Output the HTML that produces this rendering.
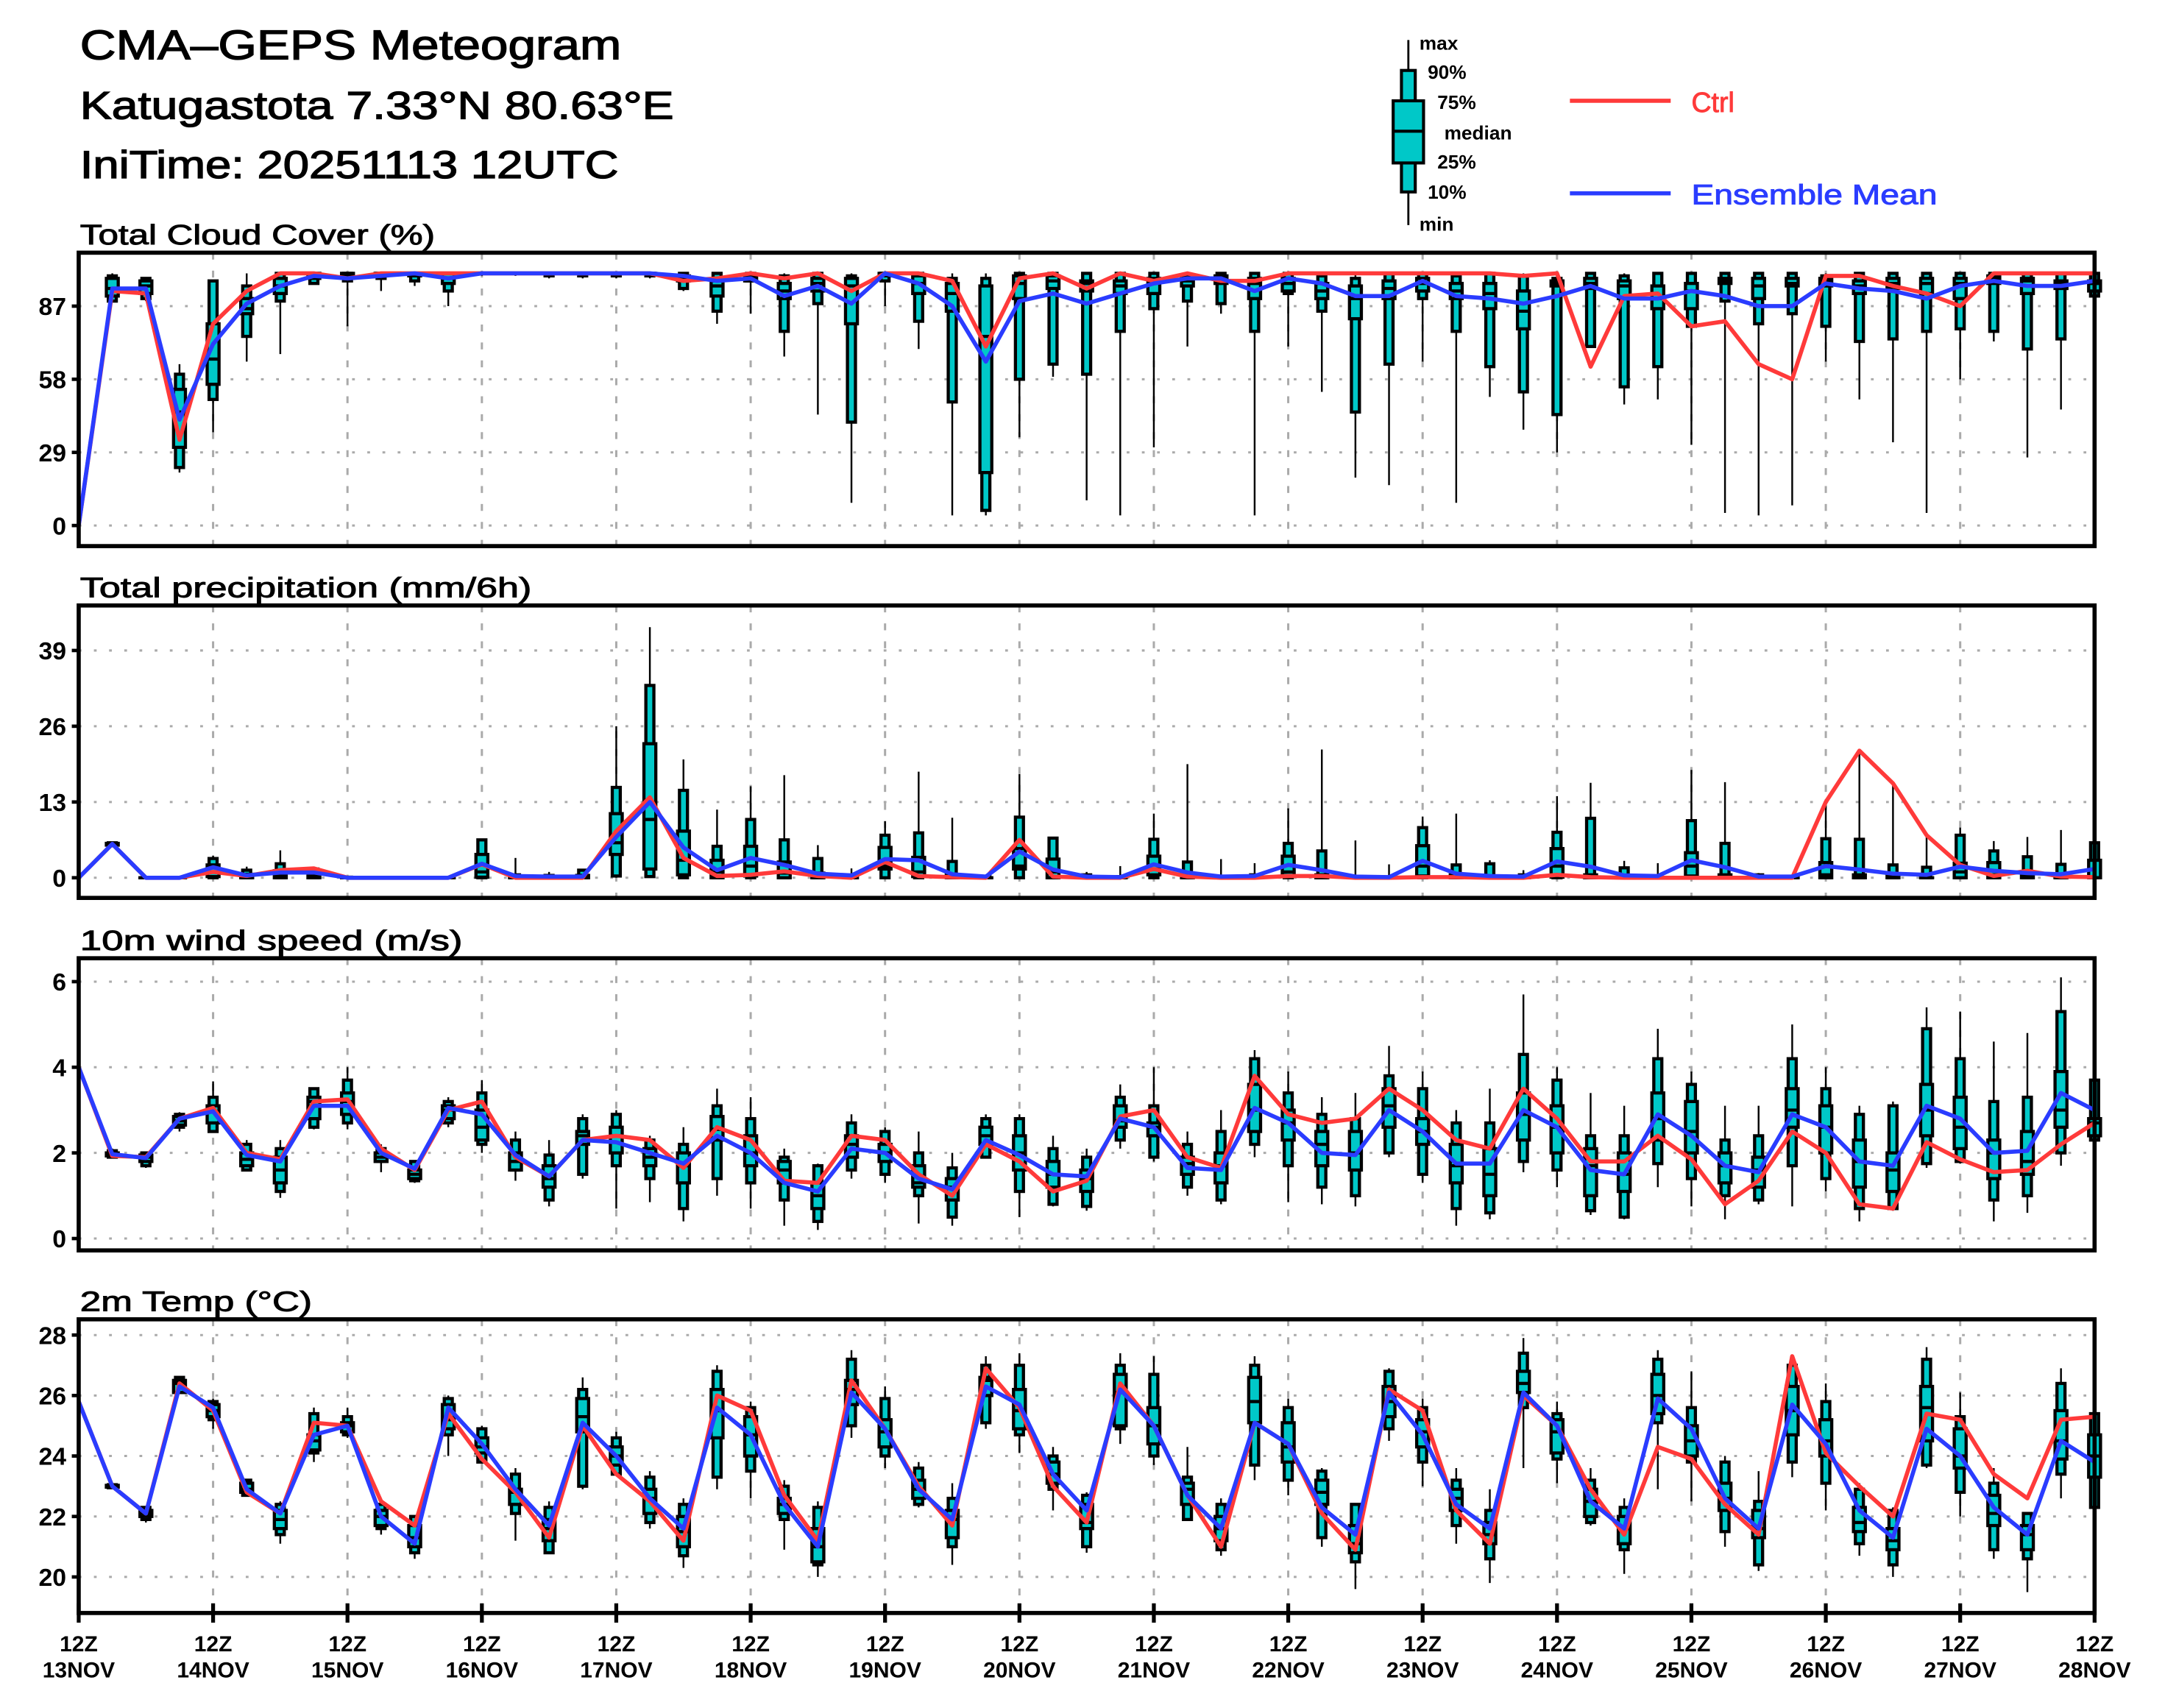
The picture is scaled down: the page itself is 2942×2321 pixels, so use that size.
<!DOCTYPE html>
<html>
<head>
<meta charset="utf-8">
<style>
html,body{margin:0;padding:0;background:#fff;}
svg{display:block;}
text{font-family:"Liberation Sans",sans-serif;}
</style>
</head>
<body>
<svg id="chart" xmlns="http://www.w3.org/2000/svg" width="2942" height="2321" viewBox="0 0 1568 1237">
<rect x="0" y="0" width="1568" height="1237" fill="#fff"/>
<g id="titles" stroke="#000" stroke-width="0.7">
<text x="58" y="43" font-size="30" textLength="392" lengthAdjust="spacingAndGlyphs">CMA–GEPS Meteogram</text>
<text x="58" y="86" font-size="28" textLength="430" lengthAdjust="spacingAndGlyphs">Katugastota 7.33°N 80.63°E</text>
<text x="58" y="129" font-size="28" textLength="390" lengthAdjust="spacingAndGlyphs">IniTime: 20251113 12UTC</text>
</g>
<g id="legend">
<g>
<line x1="1020" y1="29" x2="1020" y2="163" stroke="#000" stroke-width="1.5"/>
<rect x="1015" y="51" width="10" height="88" fill="#00c8c8" stroke="#000" stroke-width="2.2"/>
<rect x="1009" y="73" width="22" height="45" fill="#00c8c8" stroke="#000" stroke-width="2.2"/>
<line x1="1009" y1="95" x2="1031" y2="95" stroke="#000" stroke-width="2.2"/>
<g font-size="14" font-weight="bold">
<text x="1028" y="36">max</text>
<text x="1034" y="57">90%</text>
<text x="1041" y="79">75%</text>
<text x="1046" y="101">median</text>
<text x="1041" y="122">25%</text>
<text x="1034" y="144">10%</text>
<text x="1028" y="167">min</text>
</g>
</g>
<g>
<line x1="1137" y1="73" x2="1210" y2="73" stroke="#ff3a3a" stroke-width="3"/>
<text x="1225" y="81" font-size="20" fill="#ff3a3a" stroke="#ff3a3a" stroke-width="0.5">Ctrl</text>
</g>
<g>
<line x1="1137" y1="140" x2="1210" y2="140" stroke="#2a3cff" stroke-width="3"/>
<text x="1225" y="148" font-size="20" fill="#2a3cff" stroke="#2a3cff" stroke-width="0.5" textLength="178" lengthAdjust="spacingAndGlyphs">Ensemble Mean</text>
</g>
</g>
</svg>
<script>
// ---- Total cloud cover (%) ----
const cloudMin=[null,89,89,21,37,65,68,96,79,93, 95,87,99,99,98,98,98,98,93,80, 84,67,44,9,87,70,4,4,35,59, 10,4,31,71,84,4,71,53,19,16, 65,9,51,38,29,71,48,50,32,5, 4,8,65,50,33,5,58,73,27,46, 91];
const cloudP10=[null,89,90,23,50,75,89,96,97,98, 97,93,100,100,99,99,99,99,94,85, 97,77,88,41,97,81,49,6,58,64, 60,77,86,89,88,77,92,85,45,64, 90,77,63,53,44,71,55,63,79,89, 80,84,79,73,74,77,78,77,70,74, 91];
const cloudP25=[null,91,92,31,56,84,92,98,98,99, 99,96,100,100,100,100,100,100,97,91, 97,90,93,80,99,92,85,21,90,94, 93,92,92,95,96,90,93,90,82,90, 93,90,86,78,95,94,90,86,86,96, 90,95,95,92,94,92,90,96,92,94, 93];
const cloudMed=[null,94,95,45,66,86,95,99,99,100, 100,98,100,100,100,100,100,100,98,95, 98,93,96,95,100,96,92,75,96,97, 96,95,97,97,98,96,96,93,90,94, 96,93,92,85,96,96,95,90,93,97, 95,96,97,95,96,96,96,98,97,96, 96];
const cloudP75=[null,98,97,54,80,90,98,100,100,100, 100,100,100,100,100,100,100,100,99,97, 99,96,98,98,100,99,96,95,99,99, 97,97,98,98,99,98,98,96,95,97, 98,96,96,93,97,98,97,95,96,98, 98,98,98,97,98,98,98,99,98,97, 97];
const cloudP90=[null,99,98,60,97,95,100,100,100,100, 100,100,100,100,100,100,100,100,100,100, 100,99,100,99,100,100,98,98,100,100, 100,100,100,99,100,100,100,99,98,100, 100,99,100,99,98,100,99,100,100,100, 100,100,99,100,100,100,100,100,100,100, 100];
const cloudMax=[null,100,98,64,97,100,100,100,100,100, 100,100,100,100,100,100,100,100,100,100, 100,100,100,100,100,100,100,100,100,100, 100,100,100,100,100,100,100,100,100,100, 100,100,100,100,100,100,100,100,100,100, 100,100,100,100,100,100,100,100,100,100, 100];
const cloudCtrl=[0,93,92,34,80,93,100,100,98,100, 100,100,100,100,100,100,100,100,97,98, 100,98,100,93,100,100,97,71,98,100, 94,100,97,100,97,97,100,100,100,100, 100,100,100,99,100,63,91,92,79,81, 64,58,99,99,95,92,87,100,100,100, 100];
const cloudMean=[0,94,94,42,72,88,95,99,98,99, 100,98,100,100,100,100,100,100,99,97, 98,91,95,88,100,96,87,65,89,92, 88,92,96,98,98,93,98,96,91,91, 97,91,90,88,91,95,90,90,93,91, 87,87,96,94,93,90,95,97,95,95, 97];
const cloudTicks=[0,29,58,87];

// ---- Total precipitation (mm/6h) ----
const precMin=[null,5.5,0,0,0,0,0,0,0,0, 0,0,0,0,0,0,0,0,0,0, 0,0,0,0,0,0,0,0,0,0, 0,0,0,0,0,0,0,0,0,0, 0,0,0,0,0,0,0,0,0,0, 0,0,0,0,0,0,0,0,0,0, 0];
const precP10=[null,5.5,0,0,0,0,0,0,0,0, 0,0,0,0,0,0,0.3,0.2,0,0, 0,0,0,0,0,0,0,0,0,0, 0,0,0,0,0,0,0,0,0,0, 0,0,0,0,0,0,0,0,0,0, 0,0,0,0,0,0,0,0,0,0, 0];
const precP25=[null,5.6,0,0,0.2,0,0,0,0,0, 0,0,0.1,0,0,0,4,1.5,0.5,0, 0.3,0,0,0,1.5,0.2,0,0,1.5,0, 0,0,0.5,0,0,0,0.4,0,0,0, 0.3,0,0,0,0.1,0,0,0,0.3,0, 0,0,0,0,0,0,0,0,0,0, 0];
const precMed=[null,5.8,0,0,1,0.2,0.5,0.2,0,0, 0,0,1,0,0,0,6,10,3,1, 2,0.8,0.2,0,2,1,0,0,2,1, 0,0,1.5,0,0,0,1,0,0,0, 2,0,0,0,2,0,0,0,2,0, 0,0,0.5,0,0,0,1,0.5,0,0, 0];
const precP75=[null,5.9,0,0,2.2,0.6,1.2,0.5,0,0, 0,0,4,0,0,0.4,11,23,8,3, 5.4,2.7,0.8,0,5.2,3.5,0.5,0,5,3.2, 0,0,3.7,0.6,0,0,3.7,0.5,0,0, 5.5,0.5,0,0,5,0.5,0.3,0,4.3,0.5, 0,0,2.6,0.5,0.3,0,2.5,2.6,0.3,0.5, 3];
const precP90=[null,6.0,0,0,3.3,1.3,2.4,1.5,0.1,0, 0,0,6.5,0.5,0.4,1.3,15.5,33,15,5.4, 10,6.5,3.3,0.4,7.3,7.7,2.8,0.2,10.4,6.8, 0.5,0.2,6.6,2.7,0,0.5,5.9,4.6,0.2,0, 8.6,2.2,2.4,0.5,7.8,10.2,1.7,0.3,9.8,5.9, 0.5,0,6.7,6.6,2.2,1.8,7.3,4.6,3.6,2.3, 6];
const precMax=[null,6.1,0,0,3.8,1.9,4.7,1.9,0.3,0, 0,0,6.7,3.4,1,1.3,26,43,20.3,11.7, 15.7,17.6,5.6,1.6,9.7,18.2,10.3,0.5,17.8,6.8, 1,2,11,19.5,3.2,2.5,11.9,22,6.4,2.3, 10.5,11,3,1.3,14,16.3,2.9,2.5,18.5,16.4, 0.8,0.5,13.5,21.9,16.2,7,8.6,6.3,7,8.2, 6];
const precCtrl=[0,5.8,0,0,1.0,0.3,1.3,1.6,0,0, 0,0,2.3,0,0,0,8,13.8,3.4,0.3, 0.5,1.1,0.3,0,2.7,0.3,0.1,0,6.5,0.2, 0,0,1.5,0.2,0,0,0.3,0.3,0,0, 0.1,0.1,0,0,0.5,0.1,0,0,0,0, 0,0,13,21.8,16.2,7.3,2.2,0.3,1.2,0.2, 0.1];
const precMean=[0,5.8,0,0,1.8,0.4,0.9,0.9,0,0, 0,0,2.4,0.3,0.2,0.2,7,13,5.2,1.3, 3.4,2.2,0.7,0.4,3.2,3.0,0.6,0.2,4.5,1.4, 0.2,0.1,2.3,0.9,0.2,0.3,2.2,1.3,0.2,0.1, 2.9,0.7,0.3,0.2,2.8,1.9,0.4,0.3,3.0,1.8, 0.2,0.2,2.0,1.4,0.7,0.5,1.9,1.2,0.8,0.6, 1.5];
const precTicks=[0,13,26,39];

// ---- 10m wind speed (m/s) ----
const windMin=[null,1.88,1.65,2.5,2.5,1.6,0.95,2.55,2.55,1.55, 1.3,2.6,2.0,1.35,0.75,1.4,0.7,0.85,0.4,1.0, 0.7,0.3,0.2,1.4,1.3,0.35,0.3,1.9,0.5,0.75, 0.65,2.1,1.8,1.0,0.8,1.9,0.85,0.8,0.75,1.9, 1.3,0.3,0.45,1.55,1.2,0.55,0.45,1.2,0.75,0.45, 0.8,0.75,1.1,0.4,0.65,1.65,1.75,0.4,0.6,1.7, 2.3];
const windP10=[null,1.9,1.7,2.6,2.5,1.6,1.1,2.6,2.7,1.8, 1.35,2.7,2.2,1.6,0.9,1.5,1.7,1.4,0.7,1.4, 1.3,0.9,0.4,1.6,1.5,1.0,0.5,1.9,1.1,0.8, 0.75,2.3,1.9,1.2,0.9,2.2,1.7,1.2,1.0,2.0, 1.5,0.7,0.6,1.8,1.6,0.65,0.5,1.75,1.4,1.0, 0.9,1.7,1.4,0.7,0.7,1.75,1.8,0.9,1.0,2.0, 2.3];
const windP25=[null,1.93,1.8,2.65,2.7,1.7,1.3,2.8,2.9,1.8, 1.4,2.8,2.3,1.6,1.2,2.2,2.0,1.7,1.3,2.3, 1.7,1.3,0.7,1.9,1.8,1.2,0.9,2.2,1.6,1.2, 1.1,2.6,2.4,1.5,1.3,2.5,2.3,1.7,1.6,2.6, 2.2,1.3,1.0,2.3,2.0,1.0,1.1,2.3,2.0,1.3, 1.2,2.6,2.0,1.2,1.1,2.4,2.1,1.4,1.5,2.6, 2.4];
const windMed=[null,1.97,1.9,2.75,2.95,1.85,1.6,3.2,3.2,1.9, 1.5,3.0,2.6,1.8,1.4,2.4,2.4,1.9,1.7,2.55, 2.0,1.6,1.0,2.2,2.0,1.3,1.2,2.4,2.0,1.5, 1.4,2.75,2.6,1.75,1.7,3.0,2.7,2.2,2.0,3.1, 2.5,1.7,1.5,2.9,2.6,1.7,1.5,2.8,2.5,1.7, 1.6,3.0,2.6,1.8,1.6,3.0,2.6,2.0,1.8,3.0, 2.7];
const windP75=[null,2.0,1.95,2.85,3.1,2.0,1.9,3.3,3.4,2.0, 1.6,3.1,3.0,2.0,1.7,2.5,2.6,2.1,2.0,2.85, 2.4,1.8,1.3,2.4,2.2,1.7,1.4,2.6,2.4,1.8, 1.6,3.1,2.7,1.9,2.0,3.6,3.0,2.5,2.5,3.5, 2.8,2.2,2.1,3.4,3.1,2.1,2.0,3.4,3.2,2.0, 1.9,3.5,3.1,2.3,2.0,3.6,3.3,2.3,2.5,3.9, 2.8];
const windP90=[null,2.05,2.0,2.9,3.3,2.2,2.1,3.5,3.7,2.1, 1.8,3.2,3.4,2.3,1.95,2.8,2.9,2.3,2.2,3.1, 2.8,1.9,1.7,2.7,2.5,2.0,1.65,2.8,2.8,2.1, 1.9,3.3,3.1,2.2,2.5,4.2,3.4,2.9,2.8,3.8, 3.5,2.7,2.7,4.3,3.7,2.4,2.4,4.2,3.6,2.3, 2.4,4.2,3.5,2.9,3.1,4.9,4.2,3.2,3.3,5.3, 3.7];
const windMax=[null,2.1,2.0,2.95,3.67,2.3,2.3,3.5,4.0,2.2, 1.8,3.3,3.7,2.5,2.3,2.9,3.0,2.4,2.6,3.5, 3.3,2.1,1.75,2.9,2.6,2.5,2.0,2.9,2.9,2.4, 2.1,3.6,4.0,2.5,3.0,4.4,3.9,3.3,3.4,4.5, 3.9,3.0,3.5,5.7,4.0,3.4,3.1,4.9,3.9,3.1, 3.1,5.0,4.0,3.1,3.2,5.4,5.3,4.6,4.8,6.1, 4.4];
const windCtrl=[4,1.93,1.9,2.8,3.05,2.0,1.85,3.2,3.25,2.1, 1.6,3.0,3.2,1.9,1.45,2.3,2.4,2.3,1.65,2.6, 2.3,1.35,1.3,2.4,2.3,1.5,1.0,2.2,1.8,1.1, 1.35,2.85,3.0,1.9,1.65,3.8,2.9,2.7,2.8,3.5, 3.0,2.3,2.1,3.5,2.8,1.8,1.8,2.4,1.85,0.8, 1.35,2.5,2.0,0.8,0.7,2.25,1.85,1.55,1.6,2.2, 2.7];
const windMean=[4,1.97,1.88,2.8,2.97,1.95,1.8,3.1,3.1,2.0, 1.63,3.05,2.9,1.95,1.45,2.3,2.25,2.0,1.75,2.4, 2.0,1.3,1.1,2.1,2.0,1.4,1.15,2.3,1.95,1.5, 1.45,2.8,2.6,1.65,1.6,3.05,2.7,2.0,1.95,3.0, 2.5,1.75,1.75,3.0,2.6,1.6,1.5,2.9,2.4,1.7, 1.55,2.9,2.6,1.8,1.7,3.1,2.8,2.0,2.05,3.4, 3.0];
const windTicks=[0,2,4,6];

// ---- 2m temperature (°C) ----
const tempMin=[null,22.95,21.8,26.1,24.9,22.7,21.1,23.8,24.6,21.4, 20.6,24.0,23.8,21.2,20.8,22.9,23.4,21.6,20.3,22.9, 22.6,20.9,20.0,24.6,23.6,22.3,20.4,24.9,24.1,22.2, 20.8,24.4,23.7,21.9,20.7,23.2,22.7,21.0,19.6,24.5, 23.0,21.1,19.8,23.6,23.1,21.7,20.1,22.9,22.5,21.0, 20.2,23.3,22.2,20.7,20.0,23.6,22.0,20.6,19.5,22.6, 22.2];
const tempP10=[null,22.95,21.9,26.1,25.2,22.7,21.4,24.1,24.7,21.6, 20.8,24.7,23.8,22.1,20.8,23.0,23.4,21.8,20.7,23.3, 23.5,21.9,20.4,25.0,24.0,22.4,21.0,25.1,24.7,22.9, 21.0,24.9,24.0,21.9,20.9,23.7,23.2,21.3,20.5,24.9, 23.8,21.7,20.6,25.6,23.9,21.8,20.9,25.1,23.8,21.5, 20.4,23.8,23.1,21.1,20.4,23.7,22.8,20.9,20.6,23.4, 22.3];
const tempP25=[null,22.97,22.0,26.1,25.3,22.8,21.6,24.2,24.8,21.7, 21.0,24.9,24.1,22.4,21.2,24.8,23.7,22.1,21.0,24.6, 24.0,22.1,20.5,25.7,24.3,22.6,21.3,26.0,24.9,23.1, 21.6,25.0,24.4,22.4,21.2,25.1,23.8,22.4,20.8,25.3, 24.3,22.2,21.1,26.1,24.1,22.0,21.1,25.4,24.0,22.2, 21.3,24.7,24.0,21.5,20.9,24.5,23.6,21.7,20.9,23.9, 23.3];
const tempMed=[null,23.0,22.1,26.4,25.5,22.9,21.9,24.5,25.0,22.0, 21.3,25.2,24.3,22.8,21.6,25.3,24.0,22.6,21.5,25.5, 24.7,22.4,21.0,26.2,24.8,22.9,21.9,26.5,25.5,23.4, 21.8,26.1,25.0,22.9,21.6,25.8,24.3,22.8,21.1,25.8, 24.8,22.6,21.4,26.4,24.8,22.5,21.6,26.0,24.5,22.6, 21.6,25.5,24.5,21.8,21.2,25.6,24.0,22.1,21.4,24.5, 24.0];
const tempP75=[null,23.03,22.2,26.5,25.7,23.1,22.2,24.7,25.1,22.2, 21.7,25.7,24.6,22.9,21.9,25.9,24.3,22.9,22.0,26.2, 25.3,22.6,21.6,26.5,25.2,23.2,22.2,26.6,26.2,23.8, 22.4,26.7,25.6,23.1,22.0,26.6,25.1,23.2,21.7,26.3, 25.2,22.9,21.8,26.8,25.2,22.9,22.0,26.7,25.0,23.1, 22.2,26.3,25.2,22.3,21.6,26.3,24.9,22.7,21.7,25.5, 24.7];
const tempP90=[null,23.05,22.3,26.6,25.8,23.2,22.4,25.4,25.3,22.4, 22.0,25.9,24.9,23.4,22.3,26.2,24.6,23.3,22.4,26.8, 25.6,23.0,22.3,27.2,25.9,23.6,22.6,27.0,27.0,24.0, 22.7,27.0,26.7,23.3,22.4,27.0,25.6,23.5,22.4,26.8, 25.6,23.2,22.2,27.4,25.4,23.2,22.3,27.2,25.6,23.8, 22.5,27.0,25.8,22.9,22.2,27.2,25.3,23.1,22.1,26.4, 25.4];
const tempMax=[null,23.05,22.3,26.6,25.9,23.2,22.5,25.6,25.6,22.5, 22.0,26.0,25.0,23.6,22.5,26.6,24.8,23.5,22.6,27.0, 25.8,23.2,22.5,27.5,26.3,23.8,23.1,27.3,27.4,24.3, 22.8,27.4,27.3,24.3,22.6,27.3,25.9,23.6,22.4,26.9, 25.9,23.6,22.9,27.9,25.8,23.6,22.6,27.5,26.8,24.0, 23.5,27.3,26.4,23.1,22.3,27.6,26.1,23.6,22.1,26.9, 25.6];
const tempCtrl=[25.8,23.0,22.1,26.4,25.5,22.8,22.1,25.1,25.0,22.5, 21.7,25.4,23.9,22.8,21.3,25.0,23.4,22.5,21.2,26.0, 25.5,22.7,21.2,26.5,24.9,23.0,21.7,26.9,25.6,23.0, 21.8,26.4,25.0,22.7,21.0,25.1,24.4,22.1,20.9,26.2, 25.5,22.2,21.1,26.0,25.0,22.9,21.4,24.3,23.9,22.4, 21.4,27.3,24.1,23.0,22.0,25.4,25.2,23.4,22.6,25.2, 25.3];
const tempMean=[25.8,23.0,22.1,26.3,25.6,22.9,22.1,24.7,25.0,22.0, 21.1,25.6,24.4,22.9,21.7,25.1,24.0,22.6,21.6,25.6, 24.7,22.4,21.0,26.1,24.9,22.9,21.9,26.3,25.7,23.4, 22.2,26.2,25.0,22.7,21.6,25.1,24.4,22.3,21.4,26.1, 24.7,22.4,21.6,26.1,25.0,22.5,21.6,25.9,24.9,22.6, 21.6,25.7,24.4,22.2,21.3,24.9,24.0,22.3,21.4,24.5, 23.8];
const tempTicks=[20,22,24,26,28];

// ---- x axis categories ----
const dayLabels=["13NOV","14NOV","15NOV","16NOV","17NOV","18NOV","19NOV","20NOV","21NOV","22NOV","23NOV","24NOV","25NOV","26NOV","27NOV","28NOV"];
const hourLabel="12Z";

(function(){
const NS="http://www.w3.org/2000/svg";
const svg=document.getElementById('chart');
const X0=57, X1=1517, NSTEP=60;
function xScale(i){return X0+i*(X1-X0)/NSTEP;}
function mk(tag,attrs,parent){const e=document.createElementNS(NS,tag);for(const k in attrs)e.setAttribute(k,attrs[k]);(parent||svg).appendChild(e);return e;}

const panels=[
 {key:'cloud',title:'Total Cloud Cover (%)',tw:257,top:183,bottom:395.5,y0:380.6,v0:0,unit:1.8264,
  mn:cloudMin,p10:cloudP10,p25:cloudP25,md:cloudMed,p75:cloudP75,p90:cloudP90,mx:cloudMax,ctrl:cloudCtrl,mean:cloudMean,ticks:cloudTicks},
 {key:'precip',title:'Total precipitation (mm/6h)',tw:327,top:438.5,bottom:650.3,y0:635.7,v0:0,unit:4.2205,
  mn:precMin,p10:precP10,p25:precP25,md:precMed,p75:precP75,p90:precP90,mx:precMax,ctrl:precCtrl,mean:precMean,ticks:precTicks},
 {key:'wind',title:'10m wind speed (m/s)',tw:277,top:694,bottom:905.6,y0:897,v0:0,unit:31.01,
  mn:windMin,p10:windP10,p25:windP25,md:windMed,p75:windP75,p90:windP90,mx:windMax,ctrl:windCtrl,mean:windMean,ticks:windTicks},
 {key:'temp',title:'2m Temp (°C)',tw:168,top:955.5,bottom:1168.2,y0:1142.1,v0:20,unit:21.9,
  mn:tempMin,p10:tempP10,p25:tempP25,md:tempMed,p75:tempP75,p90:tempP90,mx:tempMax,ctrl:tempCtrl,mean:tempMean,ticks:tempTicks}
];

panels.forEach(function(p,pi){
 const yS=function(v){return p.y0-(v-p.v0)*p.unit;};
 const g=mk('g',{});
 
 
 const t=mk('text',{x:58,y:p.top-6,'font-size':20,stroke:'#000','stroke-width':0.5,textLength:p.tw,lengthAdjust:'spacingAndGlyphs'},g);
 t.textContent=p.title;
 
 
 const grid=mk('g',{},g);
 
 
 p.ticks.forEach(function(v){
  mk('line',{x1:X0,x2:X1,y1:yS(v),y2:yS(v),stroke:'#aaa','stroke-width':1.6,'stroke-dasharray':'2 9'},grid);
 });
 for(let d=1;d<15;d++){
  const x=xScale(d*4);
  mk('line',{x1:x,x2:x,y1:p.top,y2:p.bottom,stroke:'#aaa','stroke-width':1.6,'stroke-dasharray':'5 8'},grid);
 }
 p.ticks.forEach(function(v){
  const tk=mk('line',{x1:X0-5,x2:X0,y1:yS(v),y2:yS(v),stroke:'#000','stroke-width':2.5},g);
  
  
  const lb=mk('text',{x:X0-9,y:yS(v)+6.5,'font-size':18,'font-weight':'bold','text-anchor':'end'},g);
  lb.textContent=String(v);
  
  
 });
 const boxes=mk('g',{},g);
 
 
 for(let i=0;i<=NSTEP;i++){
  if(p.mn[i]===null||p.mn[i]===undefined) continue;
  const x=xScale(i);
  const b=mk('g',{},boxes);
  
  
  mk('line',{x1:x,x2:x,y1:yS(p.mx[i]),y2:yS(p.mn[i]),stroke:'#000','stroke-width':1.3},b);
  const y90=yS(p.p90[i]), y10=yS(p.p10[i]);
  mk('rect',{x:x-2.9,y:y90,width:5.8,height:Math.max(0.01,y10-y90),fill:'#00c8c8',stroke:'#000','stroke-width':2.3},b);
  const y75=yS(p.p75[i]), y25=yS(p.p25[i]);
  mk('rect',{x:x-4.3,y:y75,width:8.6,height:Math.max(0.01,y25-y75),fill:'#00c8c8',stroke:'#000','stroke-width':2.3},b);
  mk('line',{x1:x-4.3,x2:x+4.3,y1:yS(p.md[i]),y2:yS(p.md[i]),stroke:'#000','stroke-width':2.3},b);
 }
 const ctrlPts=p.ctrl.map(function(v,i){return xScale(i).toFixed(2)+','+yS(v).toFixed(2);}).join(' ');
 const meanPts=p.mean.map(function(v,i){return xScale(i).toFixed(2)+','+yS(v).toFixed(2);}).join(' ');
 const cl=mk('polyline',{points:ctrlPts,fill:'none',stroke:'#ff3a3a','stroke-width':3,'stroke-linejoin':'round'},g);
 
 
 const ml=mk('polyline',{points:meanPts,fill:'none',stroke:'#2a3cff','stroke-width':3,'stroke-linejoin':'round'},g);
 
 
 const fr=mk('rect',{x:X0,y:p.top,width:X1-X0,height:p.bottom-p.top,fill:'none',stroke:'#000','stroke-width':3},g);
 
 
 if(pi===3){
  const xa=mk('g',{},g);
  
  
  dayLabels.forEach(function(lbl,d){
   const x=xScale(d*4);
   mk('line',{x1:x,x2:x,y1:p.bottom-7,y2:p.bottom+7,stroke:'#000','stroke-width':2.8},xa);
   const t1=mk('text',{x:x,y:1196,'font-size':16,'font-weight':'bold','text-anchor':'middle'},xa);
   t1.textContent=hourLabel;
   
   
   const t2=mk('text',{x:x,y:1215,'font-size':16,'font-weight':'bold','text-anchor':'middle'},xa);
   t2.textContent=lbl;
   
   
  });
 }
});
})();
</script>
</body>
</html>
